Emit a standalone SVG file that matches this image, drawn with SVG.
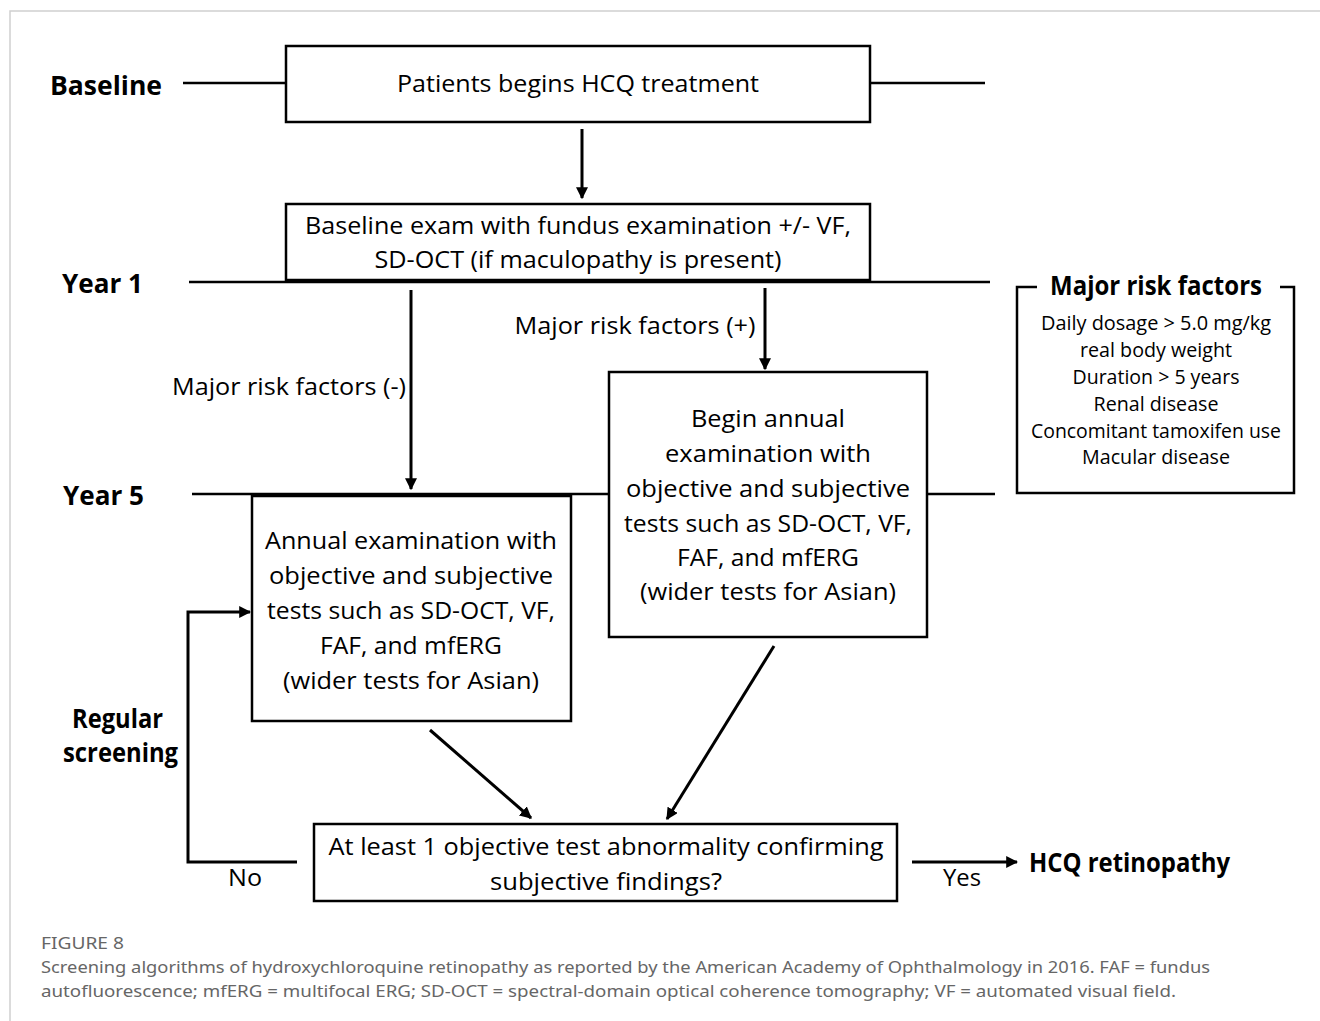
<svg xmlns="http://www.w3.org/2000/svg" width="1320" height="1021" viewBox="0 0 1320 1021">
<defs>
<marker id="ah" viewBox="0 0 10 10" refX="9" refY="5" markerWidth="4" markerHeight="4" markerUnits="strokeWidth" orient="auto">
<path d="M0,0 L10,5 L0,10 z" fill="#000"/>
</marker>
<style>
.box{fill:#fff;stroke:#000;stroke-width:2.5}
.ln{stroke:#000;stroke-width:2.5;fill:none}
.arr{stroke:#000;stroke-width:3;fill:none;marker-end:url(#ah)}
.t{font-family:"Open Sans","Noto Sans","Liberation Sans",sans-serif;font-size:24px;fill:#000;text-anchor:middle}
.b{font-family:"Open Sans","Noto Sans","Liberation Sans",sans-serif;font-size:27px;font-weight:bold;fill:#000}
.r{font-family:"Open Sans","Noto Sans","Liberation Sans",sans-serif;font-size:20px;fill:#000;text-anchor:middle}
.cap{font-family:"Noto Sans","Open Sans","Liberation Sans",sans-serif;font-size:17px;fill:#666}
</style>
</defs>
<rect x="0" y="0" width="1320" height="1021" fill="#fff"/>
<path d="M10,1021 L10,11 L1320,11" fill="none" stroke="#d0d0d0" stroke-width="1.5"/>

<g id="connectors">
<line class="ln" x1="183" y1="83" x2="286" y2="83"/>
<line class="ln" x1="870" y1="83" x2="985" y2="83"/>
<line class="ln" x1="189" y1="282" x2="990" y2="282"/>
<line class="ln" x1="192" y1="494" x2="609" y2="494"/>
<line class="ln" x1="927" y1="494" x2="995" y2="494"/>
<line class="arr" x1="582" y1="129" x2="582" y2="198"/>
<line class="arr" x1="411" y1="290" x2="411" y2="489"/>
<line class="arr" x1="765" y1="288" x2="765" y2="369"/>
<line class="arr" x1="430" y1="730" x2="531" y2="818"/>
<line class="arr" x1="774" y1="646" x2="667" y2="819"/>
<path class="arr" d="M297,862 L188,862 L188,612 L250,612"/>
<line class="arr" x1="912" y1="862" x2="1017" y2="862"/>
<text class="t" x="289" y="395" textLength="234" lengthAdjust="spacingAndGlyphs">Major risk factors (-)</text>
<text class="t" x="635" y="334" textLength="241" lengthAdjust="spacingAndGlyphs">Major risk factors (+)</text>
<text class="t" x="245" y="886" textLength="34" lengthAdjust="spacingAndGlyphs">No</text>
<text class="t" x="962" y="886" textLength="38" lengthAdjust="spacingAndGlyphs">Yes</text>
</g>

<g id="labels">
<text class="b" x="50" y="95" textLength="112" lengthAdjust="spacingAndGlyphs">Baseline</text>
<text class="b" x="62" y="293" textLength="81" lengthAdjust="spacingAndGlyphs">Year 1</text>
<text class="b" x="63" y="505" textLength="81" lengthAdjust="spacingAndGlyphs">Year 5</text>
<text class="b" x="72" y="728" font-size="25" textLength="91" lengthAdjust="spacingAndGlyphs">Regular</text>
<text class="b" x="63" y="762" font-size="25" textLength="115" lengthAdjust="spacingAndGlyphs">screening</text>
</g>

<g id="n1">
<rect class="box" x="286" y="46" width="584" height="76"/>
<text class="t" x="578" y="92" textLength="362" lengthAdjust="spacingAndGlyphs">Patients begins HCQ treatment</text>
</g>

<g id="n2">
<rect class="box" x="286" y="204" width="584" height="76"/>
<text class="t" x="578" y="234" textLength="546" lengthAdjust="spacingAndGlyphs">Baseline exam with fundus examination +/- VF,</text>
<text class="t" x="578" y="268" textLength="407" lengthAdjust="spacingAndGlyphs">SD-OCT (if maculopathy is present)</text>
</g>

<g id="n3">
<rect class="box" x="609" y="372" width="318" height="265"/>
<text class="t" x="768" y="427" textLength="154" lengthAdjust="spacingAndGlyphs">Begin annual</text>
<text class="t" x="768" y="462" textLength="206" lengthAdjust="spacingAndGlyphs">examination with</text>
<text class="t" x="768" y="497" textLength="284" lengthAdjust="spacingAndGlyphs">objective and subjective</text>
<text class="t" x="768" y="532" textLength="288" lengthAdjust="spacingAndGlyphs">tests such as SD-OCT, VF,</text>
<text class="t" x="768" y="566" textLength="182" lengthAdjust="spacingAndGlyphs">FAF, and mfERG</text>
<text class="t" x="768" y="600" textLength="256" lengthAdjust="spacingAndGlyphs">(wider tests for Asian)</text>
</g>

<g id="n4">
<rect class="box" x="252" y="496" width="319" height="225"/>
<text class="t" x="411" y="549" textLength="292" lengthAdjust="spacingAndGlyphs">Annual examination with</text>
<text class="t" x="411" y="584" textLength="284" lengthAdjust="spacingAndGlyphs">objective and subjective</text>
<text class="t" x="411" y="619" textLength="288" lengthAdjust="spacingAndGlyphs">tests such as SD-OCT, VF,</text>
<text class="t" x="411" y="654" textLength="182" lengthAdjust="spacingAndGlyphs">FAF, and mfERG</text>
<text class="t" x="411" y="689" textLength="256" lengthAdjust="spacingAndGlyphs">(wider tests for Asian)</text>
</g>

<g id="n5">
<rect class="box" x="314" y="824" width="583" height="77"/>
<text class="t" x="606" y="855" textLength="555" lengthAdjust="spacingAndGlyphs">At least 1 objective test abnormality confirming</text>
<text class="t" x="606" y="890" textLength="232" lengthAdjust="spacingAndGlyphs">subjective findings?</text>
</g>

<g id="n6">
<text class="b" x="1029" y="872" font-size="25" textLength="201" lengthAdjust="spacingAndGlyphs">HCQ retinopathy</text>
</g>

<g id="risk">
<path class="ln" d="M1037,287 L1017,287 L1017,493 L1294,493 L1294,287 L1280,287"/>
<text class="b" x="1050" y="295" font-size="25" textLength="212" lengthAdjust="spacingAndGlyphs">Major risk factors</text>
<text class="r" x="1156" y="330" textLength="230" lengthAdjust="spacingAndGlyphs">Daily dosage &gt; 5.0 mg/kg</text>
<text class="r" x="1156" y="357" textLength="152" lengthAdjust="spacingAndGlyphs">real body weight</text>
<text class="r" x="1156" y="384" textLength="167" lengthAdjust="spacingAndGlyphs">Duration &gt; 5 years</text>
<text class="r" x="1156" y="411" textLength="125" lengthAdjust="spacingAndGlyphs">Renal disease</text>
<text class="r" x="1156" y="438" textLength="250" lengthAdjust="spacingAndGlyphs">Concomitant tamoxifen use</text>
<text class="r" x="1156" y="464" textLength="148" lengthAdjust="spacingAndGlyphs">Macular disease</text>
</g>

<g id="caption">
<text class="cap" x="41" y="949" textLength="83" lengthAdjust="spacingAndGlyphs">FIGURE 8</text>
<text class="cap" x="41" y="973" textLength="1169" lengthAdjust="spacingAndGlyphs">Screening algorithms of hydroxychloroquine retinopathy as reported by the American Academy of Ophthalmology in 2016. FAF = fundus</text>
<text class="cap" x="41" y="997" textLength="1135" lengthAdjust="spacingAndGlyphs">autofluorescence; mfERG = multifocal ERG; SD-OCT = spectral-domain optical coherence tomography; VF = automated visual field.</text>
</g>
</svg>
